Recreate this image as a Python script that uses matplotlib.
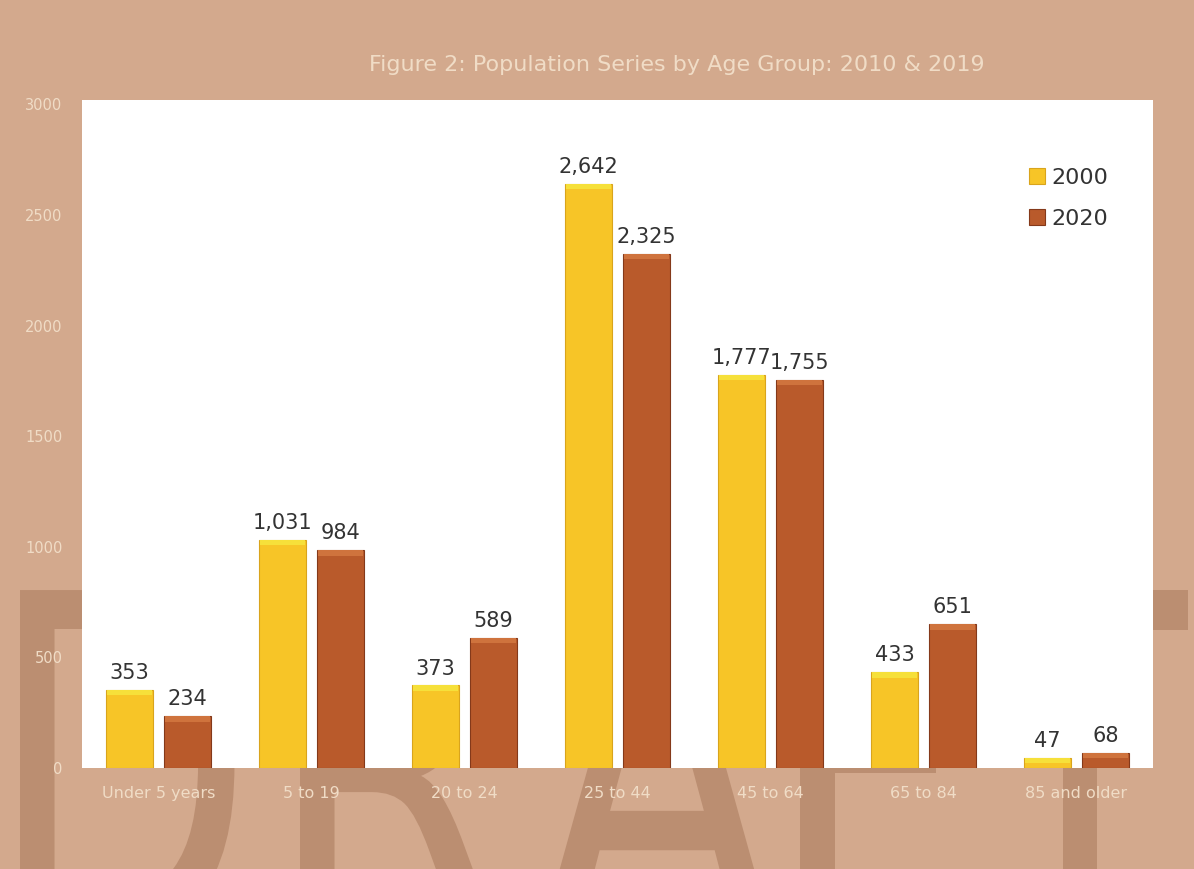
import numpy as np
import matplotlib
matplotlib.use('Agg')
import matplotlib.pyplot as plt
from matplotlib.textpath import TextPath
from matplotlib.patches import PathPatch
from matplotlib.font_manager import FontProperties
from matplotlib.transforms import Affine2D

# data
groups = ['Under 5 years', '5 to 19', '20 to 24', '25 to 44', '45 to 64', '65 to 84', '85 and older']
pop_2000 = [353, 1031, 373, 2642, 1777, 433, 47]
pop_2020 = [234, 984, 589, 2325, 1755, 651, 68]
series_names = ['2000', '2020']
yticks = [0, 500, 1000, 1500, 2000, 2500, 3000]

bg = '#d3a98d'
mark = '#bb8e71'
yellow, yellow_edge, yellow_cap = '#f7c527', '#d9a41c', '#f6e03a'
brown, brown_edge, brown_cap = '#b95a2b', '#84391a', '#cf733d'
pale = '#f0dcc6'

W, H = 1194, 869
fig = plt.figure(figsize=(W / 100, H / 100), dpi=100, facecolor=bg)

# DRAFT watermark behind the plot area
fp = FontProperties(family='DejaVu Sans')
letters = [('D', 20), ('R', 300), ('A', 540), ('F', 800), ('T', 972)]
for ch, left in letters:
    tp = TextPath((0, 0), ch, size=1, prop=fp)
    ext = tp.get_extents()
    tr = (Affine2D().translate(-ext.x0, 0).scale(350, 480).translate(left, H - 940)
          .scale(1 / W, 1 / H) + fig.transFigure)
    p = PathPatch(tp, transform=tr, facecolor=mark, edgecolor='none', zorder=-1)
    fig.add_artist(p)

ax = fig.add_axes([82 / W, (H - 768) / H, (1153 - 82) / W, (768 - 100) / H])
ax.set_facecolor('white')

x = np.arange(len(groups))
w = 0.31
off = 0.19
cap = 25
b1 = ax.bar(x - off, pop_2000, w, color=yellow, edgecolor=yellow_edge, linewidth=0.8, label=series_names[0])
b2 = ax.bar(x + off, pop_2020, w, color=brown, edgecolor=brown_edge, linewidth=0.8, label=series_names[1])
# lighter caps on the bar tops
ax.bar(x - off, [min(cap, v) for v in pop_2000], w * 0.96, bottom=[v - min(cap, v) for v in pop_2000],
       color=yellow_cap, edgecolor='none')
ax.bar(x + off, [min(cap, v) for v in pop_2020], w * 0.96, bottom=[v - min(cap, v) for v in pop_2020],
       color=brown_cap, edgecolor='none')

for bars in (b1, b2):
    for r in bars:
        v = r.get_height()
        ax.annotate('{:,}'.format(int(v)), (r.get_x() + r.get_width() / 2, v),
                    xytext=(0, 5), textcoords='offset points', ha='center', va='bottom',
                    fontsize=15, color='#333333')

ax.set_xlim(-0.5, len(groups) - 0.5)
ax.set_ylim(0, 3020)
ax.set_yticks(yticks)
ax.set_yticklabels([str(t) for t in yticks])
ax.set_xticks(x)
ax.set_xticklabels(groups)
ax.tick_params(axis='y', length=0, pad=14, labelsize=10.5, labelcolor=pale)
ax.tick_params(axis='x', length=0, pad=13, labelsize=11.5, labelcolor=pale)
for s in ax.spines.values():
    s.set_visible(False)

leg = ax.legend(loc='upper left', bbox_to_anchor=(0.874, 0.915), frameon=False,
                fontsize=16, handlelength=0.7, handleheight=0.7, handletextpad=0.3,
                labelspacing=0.95, borderpad=0)
for t in leg.get_texts():
    t.set_color('#333333')

fig.text(0.567, 0.925, 'Figure 2: Population Series by Age Group: 2010 & 2019',
         ha='center', va='center', fontsize=16, color=pale)

fig.savefig('out.png', dpi=100, facecolor=bg)
